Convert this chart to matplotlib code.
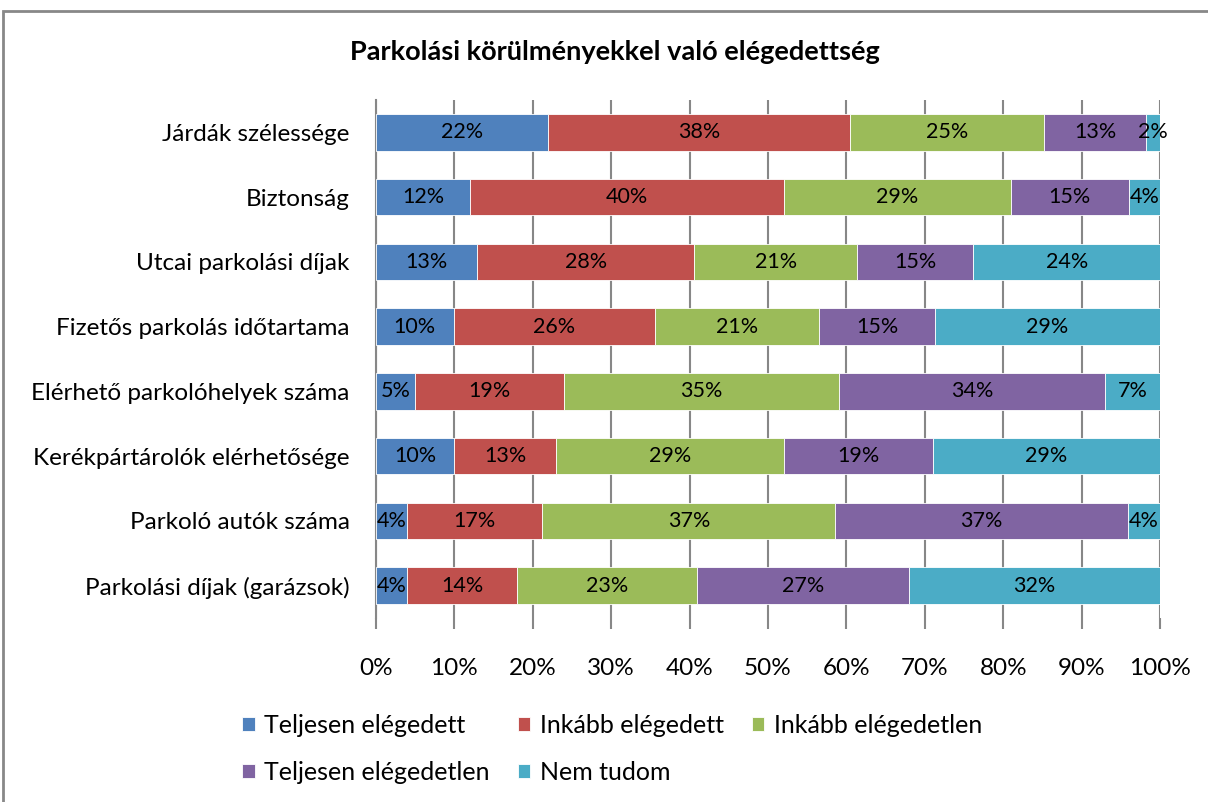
import numpy as np
import matplotlib.pyplot as plt
from matplotlib.patches import Rectangle

plt.rcParams['font.family'] = ['Lato', 'DejaVu Sans']

categories = ['Járdák szélessége', 'Biztonság', 'Utcai parkolási díjak',
              'Fizetős parkolás időtartama', 'Elérhető parkolóhelyek száma',
              'Kerékpártárolók elérhetősége', 'Parkoló autók száma',
              'Parkolási díjak (garázsok)']
series = ['Teljesen elégedett', 'Inkább elégedett', 'Inkább elégedetlen',
          'Teljesen elégedetlen', 'Nem tudom']
colors = ['#4F81BD', '#C0504D', '#9BBB59', '#8064A2', '#4BACC6']

# shares (%) per category
teljesen_eleg = [22.0, 12.0, 12.9, 9.9, 5.0, 10.0, 4.0, 4.0]
inkabb_eleg = [38.4, 40.0, 27.7, 25.7, 19.0, 13.0, 17.2, 14.0]
inkabb_elegtelen = [24.8, 29.0, 20.8, 20.9, 35.0, 29.0, 37.4, 23.0]
teljesen_elegtelen = [13.0, 15.0, 14.8, 14.8, 34.0, 19.0, 37.3, 27.0]
nem_tudom = [1.8, 4.0, 23.8, 28.7, 7.0, 29.0, 4.1, 32.0]

data = np.array([teljesen_eleg, inkabb_eleg, inkabb_elegtelen,
                 teljesen_elegtelen, nem_tudom])
data = data / data.sum(axis=0) * 100

fig = plt.figure(figsize=(12.08, 8.02), dpi=100)
ax = fig.add_axes([376 / 1208, 1 - 618 / 802, 784 / 1208, 518 / 802])

y = np.arange(len(categories))
left = np.zeros(len(categories))
handles = []
for i, name in enumerate(series):
    bars = ax.barh(y, data[i], left=left, height=0.56, color=colors[i],
                   edgecolor='white', linewidth=0.6, label=name, zorder=3)
    handles.append(bars)
    for yy, l, w in zip(y, left, data[i]):
        ax.text(l + w / 2, yy, f'{w:.0f}%', ha='center', va='center',
                fontsize=15.5, color='black', zorder=4)
    left += data[i]

ax.set_xlim(0, 100)
ax.set_ylim(len(categories) - 0.5, -0.5)
ax.set_xticks(np.arange(0, 101, 10))
ax.set_xticklabels([f'{v}%' for v in range(0, 101, 10)], fontsize=17.5)
ax.set_yticks(y)
ax.set_yticklabels(categories, fontsize=17.5)
ax.tick_params(axis='y', length=0, pad=19)
ax.tick_params(axis='x', length=8, width=1.5, color='#878787', pad=21)
ax.grid(axis='x', color='#878787', linewidth=1.5, zorder=0)
for s in ['top', 'right', 'bottom']:
    ax.spines[s].set_visible(False)
ax.spines['left'].set_color('#878787')
ax.spines['left'].set_linewidth(1.5)

fig.text(615 / 1208, 1 - 52 / 802, 'Parkolási körülményekkel való elégedettség',
         ha='center', va='center', fontsize=19.5, fontweight='bold')

order = [0, 3, 1, 4, 2]
fig.legend([handles[i] for i in order], [series[i] for i in order],
           ncol=3, loc='upper left', bbox_to_anchor=(242 / 1208, 1 - 714 / 802),
           frameon=False, fontsize=18, handlelength=0.5, handleheight=0.5,
           handletextpad=0.4, columnspacing=1.1, labelspacing=0.95,
           borderpad=0, borderaxespad=0)

fig.patches.append(Rectangle((3 / 1208, -0.1), 1.2, 1 - 11 / 802 + 0.1,
                             transform=fig.transFigure, fill=False,
                             edgecolor='#888888', linewidth=2))

fig.savefig('out.png', dpi=100)
